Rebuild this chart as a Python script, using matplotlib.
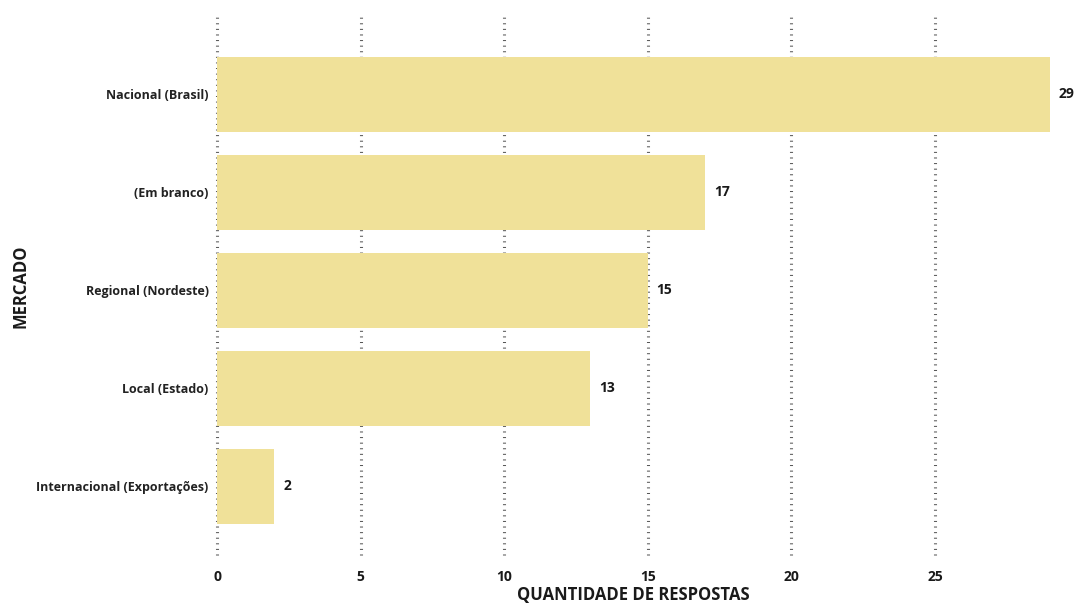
import matplotlib
matplotlib.use("Agg")
import matplotlib.pyplot as plt

# Survey responses per target market
categorias = ["Nacional (Brasil)", "(Em branco)", "Regional (Nordeste)",
              "Local (Estado)", "Internacional (Exportações)"]
respostas = [29, 17, 15, 13, 2]
ticks_x = [0, 5, 10, 15, 20, 25]

plt.rcParams["font.family"] = ["Open Sans", "DejaVu Sans"]

fig = plt.figure(figsize=(10.76, 6.09), dpi=100)
ax = fig.add_axes([0.2017, 0.0887, 0.7741, 0.8833])

pos = list(range(len(categorias)))
ax.barh(pos, respostas, height=0.76, color="#F0E199", zorder=2)

for p, v in zip(pos, respostas):
    ax.text(v + 0.3, p, str(v), va="center", ha="left",
            fontsize=10, fontweight="bold", color="#1a1a1a")

ax.set_xlim(0, 29)
ax.set_ylim(4.7, -0.79)
ax.set_yticks(pos)
ax.set_yticklabels(categorias, fontsize=9, fontweight="bold", color="#222222")
ax.set_xticks(ticks_x)
ax.set_xticklabels([str(t) for t in ticks_x], fontsize=10, fontweight="bold",
                   color="#1a1a1a")
ax.tick_params(axis="y", length=0, pad=6)
ax.tick_params(axis="x", length=0, pad=11)

# short dotted vertical gridlines
for t in ticks_x:
    ax.axvline(t, color="#555555", linewidth=2.2,
               linestyle=(0, (0.33, 1.5)), zorder=1, clip_on=False)

for s in ax.spines.values():
    s.set_visible(False)

ax.set_xlabel("QUANTIDADE DE RESPOSTAS", fontsize=12, fontweight="bold",
              color="#1a1a1a", labelpad=1)
ax.set_ylabel("MERCADO", fontsize=12, fontweight="bold", color="#1a1a1a",
              labelpad=5)

fig.savefig("out.png", dpi=100)
